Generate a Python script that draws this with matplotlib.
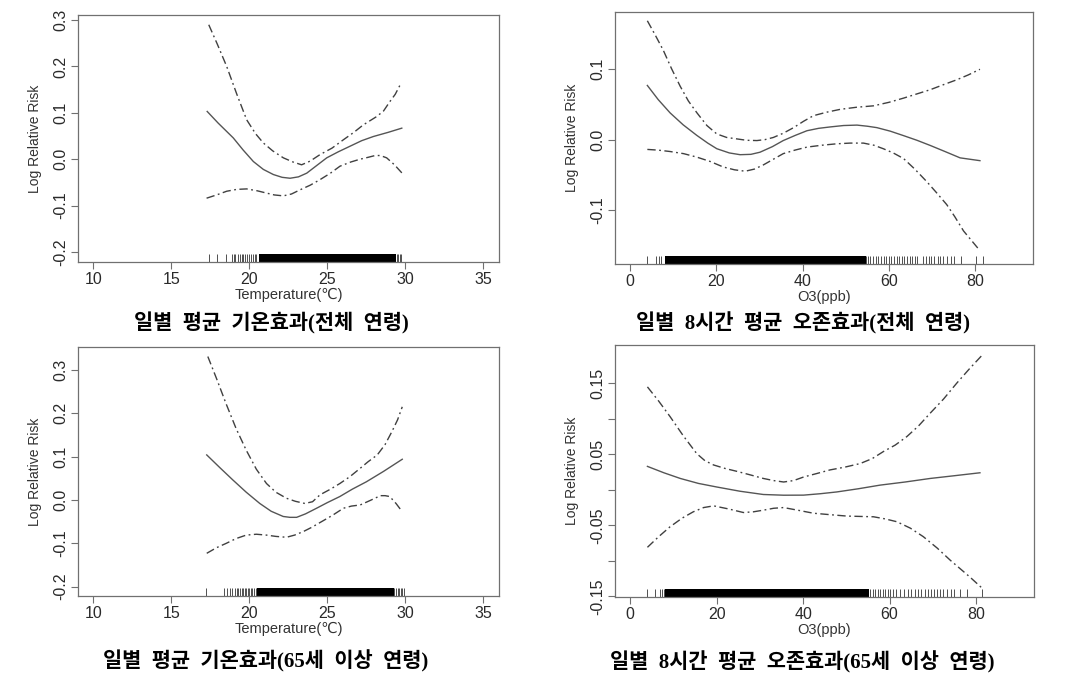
import matplotlib.pyplot as plt

plt.rcParams['font.family'] = ['Liberation Sans', 'DejaVu Sans']

# ---- panel A : temperature, all ages
temp_a_x = [17.3, 18.0, 18.97, 19.6, 20.26, 20.9, 21.54, 22.1, 22.61, 23.15, 23.68, 24.3, 24.96, 25.7, 26.45, 27.2, 27.95, 28.9, 29.77]
temp_a_fit = [0.103, 0.078, 0.046, 0.020, -0.005, -0.022, -0.033, -0.039, -0.041, -0.038, -0.030, -0.014, 0.003, 0.016, 0.028, 0.040, 0.049, 0.058, 0.067]
temp_a_up_x = [17.4, 17.95, 18.55, 19.2, 19.83, 20.4, 20.9, 21.5, 22.18, 22.8, 23.35, 23.9, 24.53, 25.3, 26.03, 26.7, 27.3, 28.16, 28.6, 29.0, 29.35, 29.66]
temp_a_up = [0.29, 0.248, 0.20, 0.14, 0.085, 0.055, 0.035, 0.018, 0.003, -0.006, -0.012, -0.004, 0.010, 0.024, 0.042, 0.058, 0.074, 0.092, 0.104, 0.124, 0.140, 0.160]
temp_a_lo_x = [17.26, 17.9, 18.55, 19.2, 19.83, 20.5, 21.1, 21.6, 22.18, 22.7, 23.25, 23.9, 24.53, 25.2, 25.81, 26.5, 27.09, 27.6, 28.06, 28.4, 28.8, 29.3, 29.87]
temp_a_lo = [-0.084, -0.077, -0.069, -0.065, -0.064, -0.068, -0.073, -0.077, -0.079, -0.075, -0.066, -0.056, -0.044, -0.030, -0.015, -0.006, 0.000, 0.004, 0.008, 0.008, 0.003, -0.012, -0.033]
temp_a_rug = [17.4, 17.9, 18.5, 18.9, 19.0, 19.1, 19.25, 19.4, 19.5, 19.6, 19.75, 19.85, 20.0, 20.1, 20.25, 20.35, 20.45, 20.6,
              29.35, 29.45, 29.55, 29.65, 29.75]
temp_a_rug_dense = [20.8, 21.0, 21.2, 21.4, 21.6, 21.8, 22.0, 22.2, 22.4, 22.6, 22.8, 23.0, 23.2, 23.4, 23.6, 23.8, 24.0,
                    24.2, 24.4, 24.55, 24.85, 25.0, 25.2, 25.4, 25.6, 25.8, 26.0, 26.2, 26.4, 26.6, 26.8, 27.0, 27.2,
                    27.4, 27.6, 27.8, 28.0, 28.2, 28.4, 28.6, 28.8, 29.0, 29.2]

# ---- panel B : ozone, all ages
o3_b_x = [4.0, 6.5, 9.27, 12.3, 15.46, 18.0, 20.1, 23.0, 25.5, 28.0, 30.1, 33.0, 35.5, 38.3, 41.0, 43.7, 46.4, 49.5, 52.6, 55.0, 57.2, 60.3, 63.4, 66.5, 69.6, 73.0, 76.5, 81.1]
o3_b_fit = [0.077, 0.057, 0.038, 0.021, 0.006, -0.005, -0.013, -0.019, -0.0215, -0.021, -0.018, -0.010, -0.0014, 0.006, 0.0126, 0.016, 0.018, 0.020, 0.0206, 0.019, 0.017, 0.012, 0.0056, -0.001, -0.0084, -0.017, -0.026, -0.030]
o3_b_up_x = [4.0, 5.8, 7.7, 9.6, 11.6, 13.5, 15.5, 17.8, 20.1, 22.4, 24.7, 27.0, 29.4, 31.3, 33.2, 35.5, 37.9, 40.2, 42.5, 45.6, 48.7, 52.5, 56.4, 60.0, 63.4, 66.5, 69.6, 72.6, 75.7, 78.4, 81.1]
o3_b_up = [0.169, 0.149, 0.127, 0.101, 0.076, 0.055, 0.038, 0.020, 0.008, 0.003, 0.001, -0.001, -0.0014, 0.000, 0.003, 0.009, 0.017, 0.026, 0.034, 0.039, 0.043, 0.046, 0.048, 0.053, 0.059, 0.065, 0.071, 0.078, 0.085, 0.092, 0.100]
o3_b_lo_x = [4.0, 6.5, 9.3, 12.4, 15.5, 18.5, 21.6, 24.2, 26.7, 28.8, 30.9, 33.2, 35.5, 38.2, 41.0, 44.5, 47.9, 51.0, 54.1, 56.5, 58.7, 61.0, 63.4, 66.0, 68.8, 71.1, 73.4, 75.3, 77.3, 79.2, 81.1]
o3_b_lo = [-0.014, -0.015, -0.017, -0.020, -0.025, -0.031, -0.039, -0.043, -0.045, -0.042, -0.036, -0.028, -0.020, -0.015, -0.0107, -0.008, -0.006, -0.005, -0.005, -0.008, -0.013, -0.019, -0.027, -0.042, -0.060, -0.076, -0.0925, -0.110, -0.130, -0.144, -0.158]
o3_b_rug = [4.0, 5.9, 6.8, 7.1, 54.6, 55.2, 55.7, 56.3, 57.0, 57.5, 58.2, 58.8, 59.3, 60.0, 60.5, 61.2, 61.9, 62.4, 63.0,
            63.6, 64.2, 64.8, 65.4, 66.0, 66.5, 67.8, 68.6, 69.2, 69.8, 70.5, 71.3, 71.9, 72.6, 73.5, 74.4, 75.2, 76.7,
            80.3, 81.9]
o3_b_rug_dense = [8.5, 9.0, 10.0, 10.5, 11.5, 12.0, 13.0, 13.5, 14.0, 14.5, 15.0, 15.5, 16.0, 16.5, 17.0, 17.5, 18.0,
                  18.5, 19.0, 19.8, 20.3, 20.8, 21.3, 21.8, 22.2, 23.0, 23.5, 24.2, 24.7, 25.2, 25.7, 26.2, 26.7,
                  27.2, 27.7, 28.2, 28.7, 29.2, 29.7, 30.2, 30.7, 31.2, 31.7, 32.2, 32.7, 33.2, 33.7, 34.2, 34.7,
                  35.2, 35.7, 36.2, 36.7, 37.2, 37.7, 38.5, 39.0, 39.5, 40.2, 40.7, 41.2, 41.7, 42.2, 42.7, 43.2,
                  44.0, 44.5, 45.0, 45.5, 46.0, 46.5, 47.0, 47.8, 48.3, 48.8, 49.3, 49.8, 50.3, 51.2, 51.7, 52.2,
                  52.7, 53.2, 53.7, 54.1]

# ---- panel C : temperature, 65+
temp_c_x = [17.27, 18.1, 18.95, 19.8, 20.67, 21.4, 22.17, 22.6, 23.03, 23.6, 24.31, 25.0, 25.8, 26.6, 27.5, 28.6, 29.8]
temp_c_fit = [0.104, 0.075, 0.046, 0.018, -0.008, -0.026, -0.038, -0.040, -0.040, -0.032, -0.019, -0.006, 0.008, 0.025, 0.042, 0.066, 0.094]
temp_c_up_x = [17.34, 17.9, 18.5, 19.15, 19.8, 20.45, 21.1, 21.7, 22.38, 22.95, 23.56, 24.05, 24.53, 25.2, 25.8, 26.45, 27.1, 27.6, 28.2, 28.7, 29.14, 29.5, 29.8]
temp_c_up = [0.331, 0.280, 0.223, 0.165, 0.115, 0.071, 0.038, 0.018, 0.004, -0.003, -0.008, -0.004, 0.012, 0.025, 0.038, 0.054, 0.073, 0.088, 0.104, 0.128, 0.158, 0.185, 0.215]
temp_c_lo_x = [17.27, 17.9, 18.52, 19.15, 19.8, 20.45, 21.1, 21.7, 22.38, 22.9, 23.45, 24.0, 24.53, 25.3, 26.03, 26.55, 27.1, 27.75, 28.4, 28.7, 29.0, 29.4, 29.8]
temp_c_lo = [-0.123, -0.110, -0.100, -0.089, -0.081, -0.079, -0.081, -0.084, -0.086, -0.081, -0.073, -0.063, -0.052, -0.036, -0.019, -0.014, -0.0115, -0.001, 0.010, 0.010, 0.008, -0.008, -0.027]
temp_c_rug = [17.2, 18.35, 18.6, 18.75, 18.9, 19.1, 19.2, 19.3, 19.4, 19.5, 19.6, 19.7, 19.8, 19.9, 20.0, 20.1, 20.2,
              20.3, 20.4, 20.5, 20.6, 29.2, 29.3, 29.4, 29.5, 29.6, 29.7, 29.8, 29.9]
temp_c_rug_dense = [20.7, 20.9, 21.1, 21.3, 21.5, 21.7, 22.1, 22.3, 22.5, 22.7, 22.9, 23.1, 23.3, 23.5, 23.7, 23.9,
                    24.1, 24.3, 24.5, 24.7, 24.9, 25.1, 25.3, 25.5, 25.7, 25.9, 26.1, 26.3, 26.5, 26.7, 26.9, 27.1,
                    27.3, 27.5, 27.7, 27.9, 28.1, 28.3, 28.5, 28.7, 28.9, 29.1]

# ---- panel D : ozone, 65+
o3_d_x = [4.0, 7.8, 11.6, 15.8, 20.0, 25.4, 30.8, 35.5, 40.1, 44.0, 47.8, 52.8, 57.8, 63.6, 69.4, 75.2, 80.9]
o3_d_fit = [0.033, 0.024, 0.016, 0.009, 0.004, -0.002, -0.0066, -0.0076, -0.0075, -0.0055, -0.003, 0.0015, 0.0066, 0.011, 0.016, 0.020, 0.024]
o3_d_up_x = [4.0, 6.6, 9.25, 12.3, 15.4, 17.3, 19.3, 22.0, 24.7, 27.8, 30.8, 33.2, 35.5, 37.8, 40.1, 43.2, 46.2, 49.7, 53.2, 56.0, 58.6, 61.3, 64.0, 66.7, 69.4, 72.5, 75.5, 78.4, 81.3]
o3_d_up = [0.145, 0.125, 0.103, 0.076, 0.051, 0.041, 0.035, 0.030, 0.026, 0.021, 0.016, 0.013, 0.011, 0.013, 0.018, 0.023, 0.028, 0.032, 0.037, 0.044, 0.054, 0.063, 0.075, 0.090, 0.108, 0.128, 0.150, 0.170, 0.189]
o3_d_lo_x = [4.0, 6.6, 9.25, 12.0, 14.6, 17.0, 19.3, 22.8, 26.2, 28.5, 30.8, 33.2, 35.5, 39.0, 42.4, 46.2, 50.1, 53.2, 56.3, 59.0, 61.7, 64.8, 67.8, 71.0, 74.0, 76.3, 78.6, 81.3]
o3_d_lo = [-0.081, -0.066, -0.052, -0.040, -0.031, -0.025, -0.0226, -0.027, -0.032, -0.031, -0.0287, -0.026, -0.025, -0.029, -0.033, -0.035, -0.037, -0.0375, -0.038, -0.041, -0.045, -0.054, -0.066, -0.082, -0.099, -0.111, -0.123, -0.138]
o3_d_rug = [4.0, 5.8, 7.0, 7.4, 7.8, 55.0, 55.5, 56.1, 56.7, 57.3, 57.9, 58.5, 59.0, 59.6, 60.2, 60.8, 61.4, 62.3, 63.4,
            64.2, 65.0, 65.9, 66.6, 67.3, 68.1, 68.8, 69.5, 70.2, 71.0, 71.6, 72.4, 73.2, 74.1, 74.8, 76.3, 77.8, 81.3]
o3_d_rug_dense = [8.5, 9.0, 10.0, 10.5, 11.0, 11.5, 12.0, 12.5, 13.0, 13.5, 14.0, 14.5, 15.0, 15.5, 16.0, 16.5, 17.0,
                  17.5, 18.0, 18.5, 19.0, 19.5, 20.0, 20.5, 21.0, 21.5, 22.0, 22.5, 23.0, 23.5, 24.0, 24.5, 25.0,
                  25.5, 26.3, 26.8, 27.3, 27.8, 28.3, 28.8, 29.3, 29.8, 30.3, 30.8, 31.3, 32.2, 32.7, 33.2, 33.7,
                  34.2, 34.7, 35.2, 35.7, 36.2, 36.7, 37.2, 37.7, 38.2, 39.0, 39.5, 40.0, 40.5, 41.0, 41.5, 42.0,
                  42.5, 43.0, 43.8, 44.3, 44.8, 45.3, 45.8, 46.3, 46.8, 47.3, 47.8, 48.3, 48.8, 49.3, 49.8, 50.3,
                  50.8, 51.3, 51.8, 52.5, 53.0, 53.5, 54.0, 54.5]

temp_ticks = [10, 15, 20, 25, 30, 35]
o3_ticks = [0, 20, 40, 60, 80]

captions = ['일별  평균  기온효과(전체  연령)',
            '일별  8시간  평균  오존효과(전체  연령)',
            '일별  평균  기온효과(65세  이상  연령)',
            '일별  8시간  평균  오존효과(65세  이상  연령)']

W, H = 1073, 691
fig = plt.figure(figsize=(W / 100, H / 100), dpi=100)

ci_dash = (6, 2.5, 1.3, 2.5)


def panel(box, fx, fy, ux, uy, lx, ly, rug, rug_dense, dense_lw, xlim, ylim, xticks, yticks, ylabels, xlabel):
    l, t, r, b = box
    ax = fig.add_axes([l / W, 1 - b / H, (r - l) / W, (b - t) / H])
    ax.plot(fx, fy, '-', color='#555555', lw=1.0)
    ax.plot(ux, uy, color='#404040', lw=1.0, dashes=ci_dash)
    ax.plot(lx, ly, color='#404040', lw=1.0, dashes=ci_dash)
    trans = ax.get_xaxis_transform()
    ax.vlines(rug, 0, 0.032, transform=trans, colors='#333333', lw=0.6)
    ax.vlines(rug_dense, 0, 0.032, transform=trans, colors='black', lw=dense_lw, antialiased=False)
    ax.set_xlim(xlim)
    ax.set_ylim(ylim)
    ax.set_xticks(xticks)
    ax.set_yticks(yticks)
    ax.set_yticklabels(ylabels, rotation=90, va='center')
    for s in ax.spines.values():
        s.set_color('#707070')
        s.set_linewidth(0.9)
    ax.tick_params(colors='#707070', labelcolor='#2a2a2a', labelsize=11.5, length=5, width=0.8, pad=2)
    ax.set_xlabel(xlabel, fontsize=10.5, color='#333333', labelpad=1)
    ax.set_ylabel('Log Relative Risk', fontsize=10, color='#333333')
    ax.yaxis.set_label_coords(-36 / (r - l), 0.5)
    return ax


temp_ylab = ['0.3', '0.2', '0.1', '0.0', '-0.1', '-0.2']
panel((78, 15, 499, 262), temp_a_x, temp_a_fit, temp_a_up_x, temp_a_up, temp_a_lo_x, temp_a_lo,
      temp_a_rug, temp_a_rug_dense, 3.0, (9.02, 36.0), (-0.2216, 0.311), temp_ticks,
      [0.3, 0.2, 0.1, 0.0, -0.1, -0.2], temp_ylab, 'Temperature(℃)')
panel((615, 12, 1033, 264), o3_b_x, o3_b_fit, o3_b_up_x, o3_b_up, o3_b_lo_x, o3_b_lo,
      o3_b_rug, o3_b_rug_dense, 2.2, (-3.5, 93.4), (-0.177, 0.1815), o3_ticks,
      [0.1, 0.0, -0.1], ['0.1', '0.0', '-0.1'], 'O3(ppb)')
panel((78, 347, 499, 596), temp_c_x, temp_c_fit, temp_c_up_x, temp_c_up, temp_c_lo_x, temp_c_lo,
      temp_c_rug, temp_c_rug_dense, 3.0, (9.02, 36.0), (-0.2215, 0.353), temp_ticks,
      [0.3, 0.2, 0.1, 0.0, -0.1, -0.2], temp_ylab, 'Temperature(℃)')
panel((615, 345, 1034, 597), o3_d_x, o3_d_fit, o3_d_up_x, o3_d_up, o3_d_lo_x, o3_d_lo,
      o3_d_rug, o3_d_rug_dense, 2.2, (-3.5, 93.4), (-0.151, 0.204), o3_ticks,
      [0.15, 0.10, 0.05, 0.0, -0.05, -0.10, -0.15], ['0.15', '', '0.05', '', '-0.05', '', '-0.15'], 'O3(ppb)')

cap_pos = [(271, 323), (803, 323), (266, 661), (802, 662)]
for (cx, cy), txt in zip(cap_pos, captions):
    fig.text(cx / W, 1 - cy / H, txt, ha='center', va='center', fontsize=15, fontweight='bold',
             family=['Liberation Serif', 'Noto Sans CJK KR'])

fig.savefig('out.png', dpi=100)
